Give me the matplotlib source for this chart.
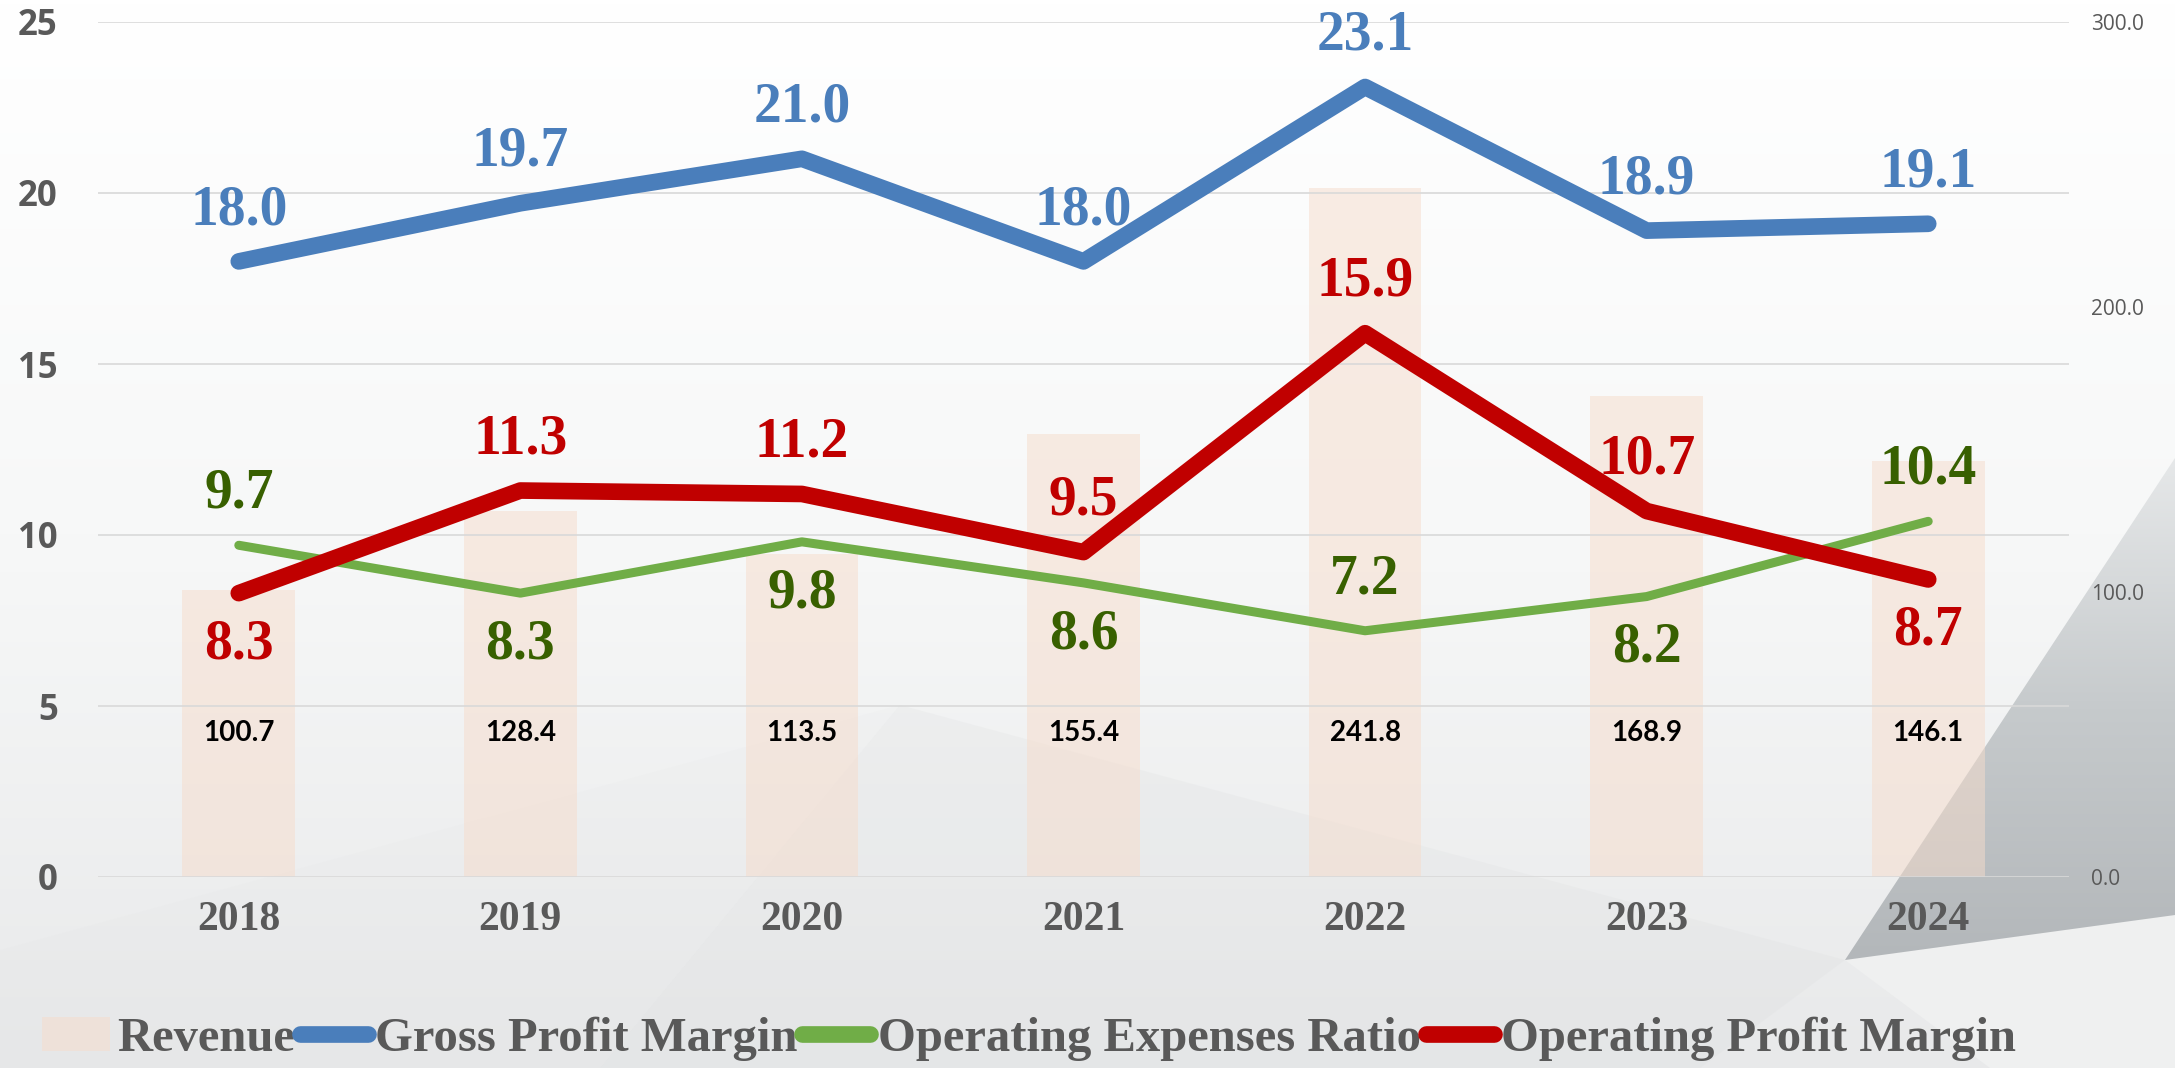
import numpy as np
import matplotlib.pyplot as plt
from matplotlib.colors import LinearSegmentedColormap
from matplotlib.patches import Polygon, Patch
from matplotlib.lines import Line2D

# data
years = ['2018', '2019', '2020', '2021', '2022', '2023', '2024']
revenue = [100.7, 128.4, 113.5, 155.4, 241.8, 168.9, 146.1]
gross_margin = [18.0, 19.7, 21.0, 18.0, 23.1, 18.9, 19.1]
opex_ratio = [9.7, 8.3, 9.8, 8.6, 7.2, 8.2, 10.4]
op_margin = [8.3, 11.3, 11.2, 9.5, 15.9, 10.7, 8.7]

# label above (+1) or below (-1) each point
gross_side = [1, 1, 1, 1, 1, 1, 1]
opex_side = [1, -1, -1, -1, 1, -1, 1]
op_side = [-1, 1, 1, 1, 1, 1, -1]

BLUE = '#4A7EBB'
GREEN = '#70AD47'
GREEN_TXT = '#386000'
RED = '#C00000'
BAR = '#F6DCCB'
GREY = '#595959'
SERIF = 'Liberation Serif'

W, H = 2175, 1068
fig = plt.figure(figsize=(W / 100, H / 100), dpi=100)

# background: soft grey gradient plus a few faceted shapes
bg = fig.add_axes([0, 0, 1, 1], zorder=0)
bg.axis('off')
grad = np.linspace(0, 1, 256).reshape(-1, 1) * np.ones((1, 4))
bg_cmap = LinearSegmentedColormap.from_list('bg', ['#FFFFFF', '#F7F8F8', '#E8E9EA'])
bg.imshow(grad, cmap=bg_cmap, extent=[0, W, H, 0], aspect='auto', zorder=0)

soft = Polygon([(900, 705), (1845, 960), (1700, H), (600, H)], closed=True,
               facecolor='#D5D7D8', edgecolor='none', alpha=0.16, zorder=1)
bg.add_patch(soft)
soft2 = Polygon([(0, 950), (900, 705), (600, H), (0, H)], closed=True,
                facecolor='#DADCDD', edgecolor='none', alpha=0.08, zorder=1)
bg.add_patch(soft2)
band = Polygon([(1845, 960), (W, 915), (W, H), (1990, H)], closed=True,
               facecolor='#EFF0F0', edgecolor='none', zorder=2)
bg.add_patch(band)
wedge = Polygon([(W, 458), (1845, 960), (W, 915)], closed=True,
                facecolor='none', edgecolor='none', zorder=2)
bg.add_patch(wedge)
wedge_cmap = LinearSegmentedColormap.from_list('w', ['#E6E8E9', '#C6CACC', '#B3B7BA'])
wimg = bg.imshow(grad, cmap=wedge_cmap, extent=[1845, W, 960, 458], aspect='auto', zorder=2)
wimg.set_clip_path(wedge)
bg.set_xlim(0, W)
bg.set_ylim(H, 0)

# main axes
rect = [98 / W, 1 - 877 / H, (2069 - 98) / W, (877 - 22) / H]
ax = fig.add_axes(rect, zorder=3)
axr = ax.twinx()
axr.set_zorder(2)
ax.set_zorder(3)
ax.patch.set_visible(False)
axr.patch.set_visible(False)

x = np.arange(len(years))
axr.bar(x, revenue, width=0.4, color=BAR, alpha=0.5, zorder=1)
axr.set_ylim(0, 300)
axr.set_yticks([0, 100, 200, 300])
axr.set_yticklabels([f'{v:.1f}' for v in [0, 100, 200, 300]],
                    fontsize=15, color=GREY, family='Open Sans')
axr.tick_params(axis='y', length=0, pad=16)

ax.set_xlim(-0.5, len(years) - 0.5)
ax.set_ylim(0, 25)
ax.set_yticks([0, 5, 10, 15, 20, 25])
ax.set_yticklabels(['0', '5', '10', '15', '20', '25'], fontsize=25,
                   color=GREY, family='Open Sans', fontweight='bold')
ax.tick_params(axis='y', length=0, pad=29)
ax.set_xticks(x)
ax.set_xticklabels(years, fontsize=30, color=GREY, family=SERIF, fontweight='bold')
ax.tick_params(axis='x', length=0, pad=17)
ax.grid(axis='y', color='#D9D9D9', linewidth=1.2)
ax.set_axisbelow(True)
for s in list(ax.spines.values()) + list(axr.spines.values()):
    s.set_visible(False)

series = [
    (gross_margin, BLUE, BLUE, 12, gross_side),
    (opex_ratio, GREEN, GREEN_TXT, 6.5, opex_side),
    (op_margin, RED, RED, 12, op_side),
]
for vals, col, tcol, lw, sides in series:
    ax.plot(x, vals, color=col, linewidth=lw, solid_capstyle='round',
            solid_joinstyle='round', zorder=4)
    for xi, v, sd in zip(x, vals, sides):
        ax.annotate(f'{v:.1f}', (xi, v), xytext=(0, 37 * sd), textcoords='offset points',
                    ha='center', va='center', fontsize=40, color=tcol,
                    family=SERIF, fontweight='bold', zorder=5)

# revenue labels sit low inside the bars
for xi, r in zip(x, revenue):
    ax.text(xi, 4.2, f'{r:.1f}', ha='center', va='center', fontsize=20,
            color='black', family='Lato', fontweight='bold', zorder=5)

handles = [
    Patch(facecolor=BAR, alpha=0.5, edgecolor='none'),
    Line2D([0], [0], color=BLUE, linewidth=12, solid_capstyle='round'),
    Line2D([0], [0], color=GREEN, linewidth=12, solid_capstyle='round'),
    Line2D([0], [0], color=RED, linewidth=12, solid_capstyle='round'),
]
labels = ['Revenue', 'Gross Profit Margin', 'Operating Expenses Ratio', 'Operating Profit Margin']
fig.legend(handles, labels, loc='center', bbox_to_anchor=(0.473, 0.027), ncol=4,
           frameon=False, handlelength=1.4, handletextpad=0.15, columnspacing=0.1,
           prop={'family': SERIF, 'weight': 'bold', 'size': 35}, labelcolor=GREY)

fig.savefig('out.png', dpi=100)
